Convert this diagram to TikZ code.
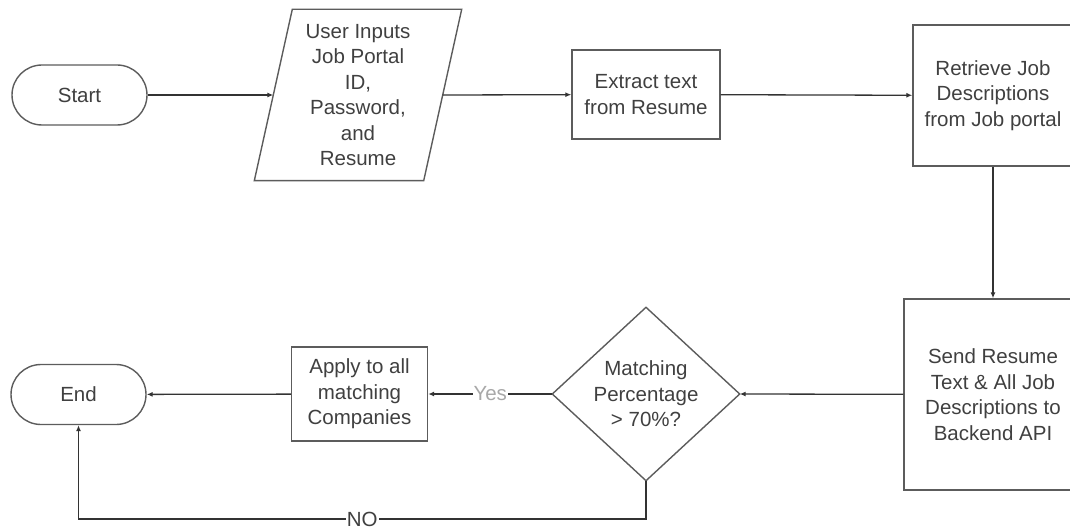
\documentclass[tikz,border=0pt]{standalone}
\usepackage{fontspec}
\setmainfont{Liberation Sans}
\usetikzlibrary{arrows.meta,calc}
\definecolor{ink}{HTML}{333333}
\definecolor{edge}{HTML}{5C5C5C}
\definecolor{txt}{HTML}{404040}
\definecolor{faint}{HTML}{A8A8A8}
\begin{document}
\begin{tikzpicture}[x=1pt,y=-1pt,
  box/.style={draw=edge, line width=1.4pt, fill=white, text=txt, align=center,
    font=\fontsize{20.5}{25.5}\selectfont, inner sep=0pt},
  term/.style={box, rounded corners=30pt, minimum width=135pt, minimum height=60pt},
  proc/.style={box, rectangle},
  textonly/.style={box, draw=none, fill=none},
  flow/.style={draw=ink, line width=1.3pt, -{Latex[length=6pt,width=5pt]}},
  edgelabel/.style={fill=white, inner sep=1pt, font=\fontsize{20.5}{24}\selectfont}]
\useasboundingbox (0,0) rectangle (1070,529);
\clip (0,0) rectangle (1070,529);

% terminals
\node[term] (start) at (79.5,95) {Start};
\node[term] (end) at (78.5,394.5) {End};

% input parallelogram: text node plus slanted outline
\node[textonly, minimum width=168pt, minimum height=170pt] (input) at (358,95)
  {User Inputs\\Job Portal\\ID,\\Password,\\and\\Resume};
\draw[draw=edge, line width=1.4pt]
  ($(input.north west)+(19,0)$) -- ($(input.north east)+(19,0)$) --
  ($(input.south east)+(-19,0)$) -- ($(input.south west)+(-19,0)$) -- cycle;

% process steps
\node[proc, minimum width=148pt, minimum height=89pt] (extract) at (646,94.5)
  {Extract text\\from Resume};
\node[proc, minimum width=160pt, minimum height=141pt] (retrieve) at (993,95.5)
  {Retrieve Job\\Descriptions\\from Job portal};
\node[proc, minimum width=178pt, minimum height=191pt] (send) at (993,394.5)
  {Send Resume\\Text \& All Job\\Descriptions to\\Backend API};
\node[proc, minimum width=136pt, minimum height=94pt] (apply) at (359.5,394)
  {Apply to all\\matching\\Companies};

% decision diamond
\node[textonly, minimum width=186pt, minimum height=172pt] (decision) at (646,394)
  {Matching\\Percentage\\> 70\%?};
\draw[draw=edge, line width=1.4pt]
  (decision.west) -- (decision.north) -- (decision.east) -- (decision.south) -- cycle;

% connectors
\coordinate (nobend) at (78.5,519);
\draw[flow] (start) -- (input.west);
\draw[flow] (input.east) -- (extract);
\draw[flow] (extract) -- (retrieve);
\draw[flow] (retrieve) -- (send);
\draw[flow] (send) -- (decision.east);
\draw[flow] (decision.west) -- node[edgelabel, text=faint] {Yes} (apply);
\draw[flow] (apply) -- (end);
\draw[flow] (decision.south) |- node[pos=0.75, edgelabel, text=txt] {NO} (nobend) -- (end.south);
\end{tikzpicture}
\end{document}
